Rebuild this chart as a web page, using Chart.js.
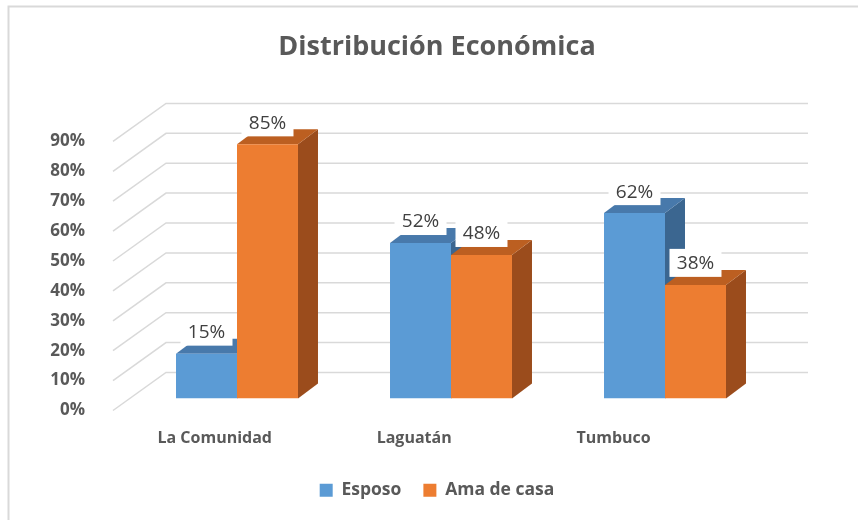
<!DOCTYPE html>
<html lang="es">
<head>
    <meta charset="UTF-8">
    <title>Distribución Económica</title>
    <script src="https://cdn.jsdelivr.net/npm/chart.js"></script>
    <style>
        body {
            margin: 0;
            background-color: #ffffff;
        }
        .chart-container {
            position: relative;
            width: 858px;
            height: 520px;
        }
    </style>
</head>
<body>

<div class="chart-container">
    <canvas id="economiaChart" width="858" height="520"></canvas>
</div>

<script>
    // Chart data
    const categories = ['La Comunidad', 'Laguatán', 'Tumbuco'];
    const esposo = [15, 52, 62];
    const amaDeCasa = [85, 48, 38];
    const yTicks = [0, 10, 20, 30, 40, 50, 60, 70, 80, 90];

    const textGray = '#595959';
    const gridGray = '#d9d9d9';
    const blueFaces = { front: '#5B9BD5', top: '#4879AB', side: '#3B6690' };
    const orangeFaces = { front: '#ED7D31', top: '#BC5F21', side: '#9B4C1C' };

    // 3D look: bar depth, back wall and front edge offsets
    const BAR_DX = 20, BAR_DY = -15;
    const BACK_DX = 36, BACK_DY = -26;
    const FRONT_DX = -17, FRONT_DY = 12;

    Chart.defaults.font.family = "'Open Sans', sans-serif";

    // White background and the outer frame
    const framePlugin = {
        id: 'frame',
        beforeDraw(chart) {
            const ctx = chart.ctx;
            ctx.save();
            ctx.fillStyle = '#ffffff';
            ctx.fillRect(0, 0, chart.width, chart.height);
            ctx.strokeStyle = gridGray;
            ctx.lineWidth = 2;
            ctx.beginPath();
            ctx.moveTo(8.5, chart.height);
            ctx.lineTo(8.5, 6.5);
            ctx.lineTo(chart.width, 6.5);
            ctx.stroke();
            ctx.restore();
        }
    };

    // Back wall gridlines + the slanted side lines
    const wallPlugin = {
        id: 'wall',
        beforeDatasetsDraw(chart) {
            const { ctx, chartArea, scales } = chart;
            ctx.save();
            ctx.strokeStyle = gridGray;
            ctx.lineWidth = 1.5;
            yTicks.forEach(v => {
                const y = scales.y.getPixelForValue(v);
                ctx.beginPath();
                ctx.moveTo(chartArea.left + FRONT_DX, y + FRONT_DY);
                ctx.lineTo(chartArea.left + BACK_DX, y + BACK_DY);
                ctx.lineTo(chartArea.right + BACK_DX, y + BACK_DY);
                ctx.stroke();
            });
            ctx.restore();
        }
    };

    function fillPoly(ctx, pts, color) {
        ctx.fillStyle = color;
        ctx.beginPath();
        ctx.moveTo(pts[0][0], pts[0][1]);
        for (let i = 1; i < pts.length; i++) ctx.lineTo(pts[i][0], pts[i][1]);
        ctx.closePath();
        ctx.fill();
    }

    // Top and side faces, drawn before the library draws the front faces
    const barDepthPlugin = {
        id: 'barDepth',
        beforeDatasetsDraw(chart) {
            const ctx = chart.ctx;
            ctx.save();
            chart.data.datasets.forEach((ds, i) => {
                const faces = ds.faces;
                chart.getDatasetMeta(i).data.forEach(bar => {
                    const l = bar.x - bar.width / 2;
                    const r = bar.x + bar.width / 2;
                    fillPoly(ctx, [[r, bar.y], [r + BAR_DX, bar.y + BAR_DY], [r + BAR_DX, bar.base + BAR_DY], [r, bar.base]], faces.side);
                    fillPoly(ctx, [[l, bar.y], [r, bar.y], [r + BAR_DX, bar.y + BAR_DY], [l + BAR_DX, bar.y + BAR_DY]], faces.top);
                });
            });
            ctx.restore();
        }
    };

    // Value labels in white boxes, category labels on the front edge
    const labelPlugin = {
        id: 'labels',
        afterDatasetsDraw(chart) {
            const { ctx, chartArea } = chart;
            ctx.save();
            ctx.textAlign = 'center';
            ctx.textBaseline = 'middle';
            ctx.font = "19px 'Open Sans', sans-serif";
            chart.data.datasets.forEach((ds, i) => {
                chart.getDatasetMeta(i).data.forEach((bar, j) => {
                    const cx = bar.x;
                    const cy = bar.y - 22;
                    ctx.fillStyle = '#ffffff';
                    ctx.fillRect(cx - 26, cy - 14, 52, 28);
                    ctx.fillStyle = '#404040';
                    ctx.fillText(ds.data[j] + '%', cx, cy + 1);
                });
            });

            ctx.font = "bold 16px 'Open Sans', sans-serif";
            ctx.fillStyle = textGray;
            categories.forEach((name, j) => {
                const groupX = chart.scales.x.getPixelForValue(j);
                const x = chartArea.left + FRONT_DX + 2 + (groupX - chartArea.left) * 0.932;
                ctx.fillText(name, x, chartArea.bottom + 40);
            });
            ctx.restore();
        }
    };

    const ctx = document.getElementById('economiaChart').getContext('2d');
    const economiaChart = new Chart(ctx, {
        type: 'bar',
        data: {
            labels: categories,
            datasets: [
                {
                    label: 'Esposo',
                    data: esposo,
                    backgroundColor: blueFaces.front,
                    borderWidth: 0,
                    faces: blueFaces
                },
                {
                    label: 'Ama de casa',
                    data: amaDeCasa,
                    backgroundColor: orangeFaces.front,
                    borderWidth: 0,
                    faces: orangeFaces
                }
            ]
        },
        options: {
            responsive: false,
            animation: false,
            layout: {
                padding: { left: 16, right: 0, top: 0, bottom: 11 }
            },
            datasets: {
                bar: { categoryPercentage: 0.57, barPercentage: 1 }
            },
            plugins: {
                tooltip: { enabled: false },
                title: {
                    display: true,
                    text: 'Distribución Económica',
                    color: textGray,
                    font: { size: 27, weight: 'bold' },
                    padding: { top: 31, bottom: 66 }
                },
                legend: {
                    position: 'bottom',
                    labels: {
                        color: textGray,
                        font: { size: 17.5, weight: 'bold' },
                        boxWidth: 13,
                        boxHeight: 13,
                        padding: 22
                    }
                }
            },
            scales: {
                x: {
                    grid: { display: false },
                    border: { display: false },
                    ticks: { display: false },
                    afterFit(scale) { scale.height = 61; }
                },
                y: {
                    min: 0,
                    max: 90,
                    grid: { display: false },
                    border: { display: false },
                    ticks: {
                        stepSize: 10,
                        padding: 37,
                        labelOffset: 12,
                        color: textGray,
                        font: { size: 17, weight: 'bold' },
                        callback: v => v + '%'
                    },
                    afterFit(scale) { scale.width = 114; }
                },
                // empty right axis, keeps room for the back wall
                yRight: {
                    position: 'right',
                    grid: { display: false },
                    border: { display: false },
                    ticks: { display: false },
                    afterFit(scale) { scale.width = 86; }
                }
            }
        },
        plugins: [framePlugin, wallPlugin, barDepthPlugin, labelPlugin]
    });
</script>
</body>
</html>
